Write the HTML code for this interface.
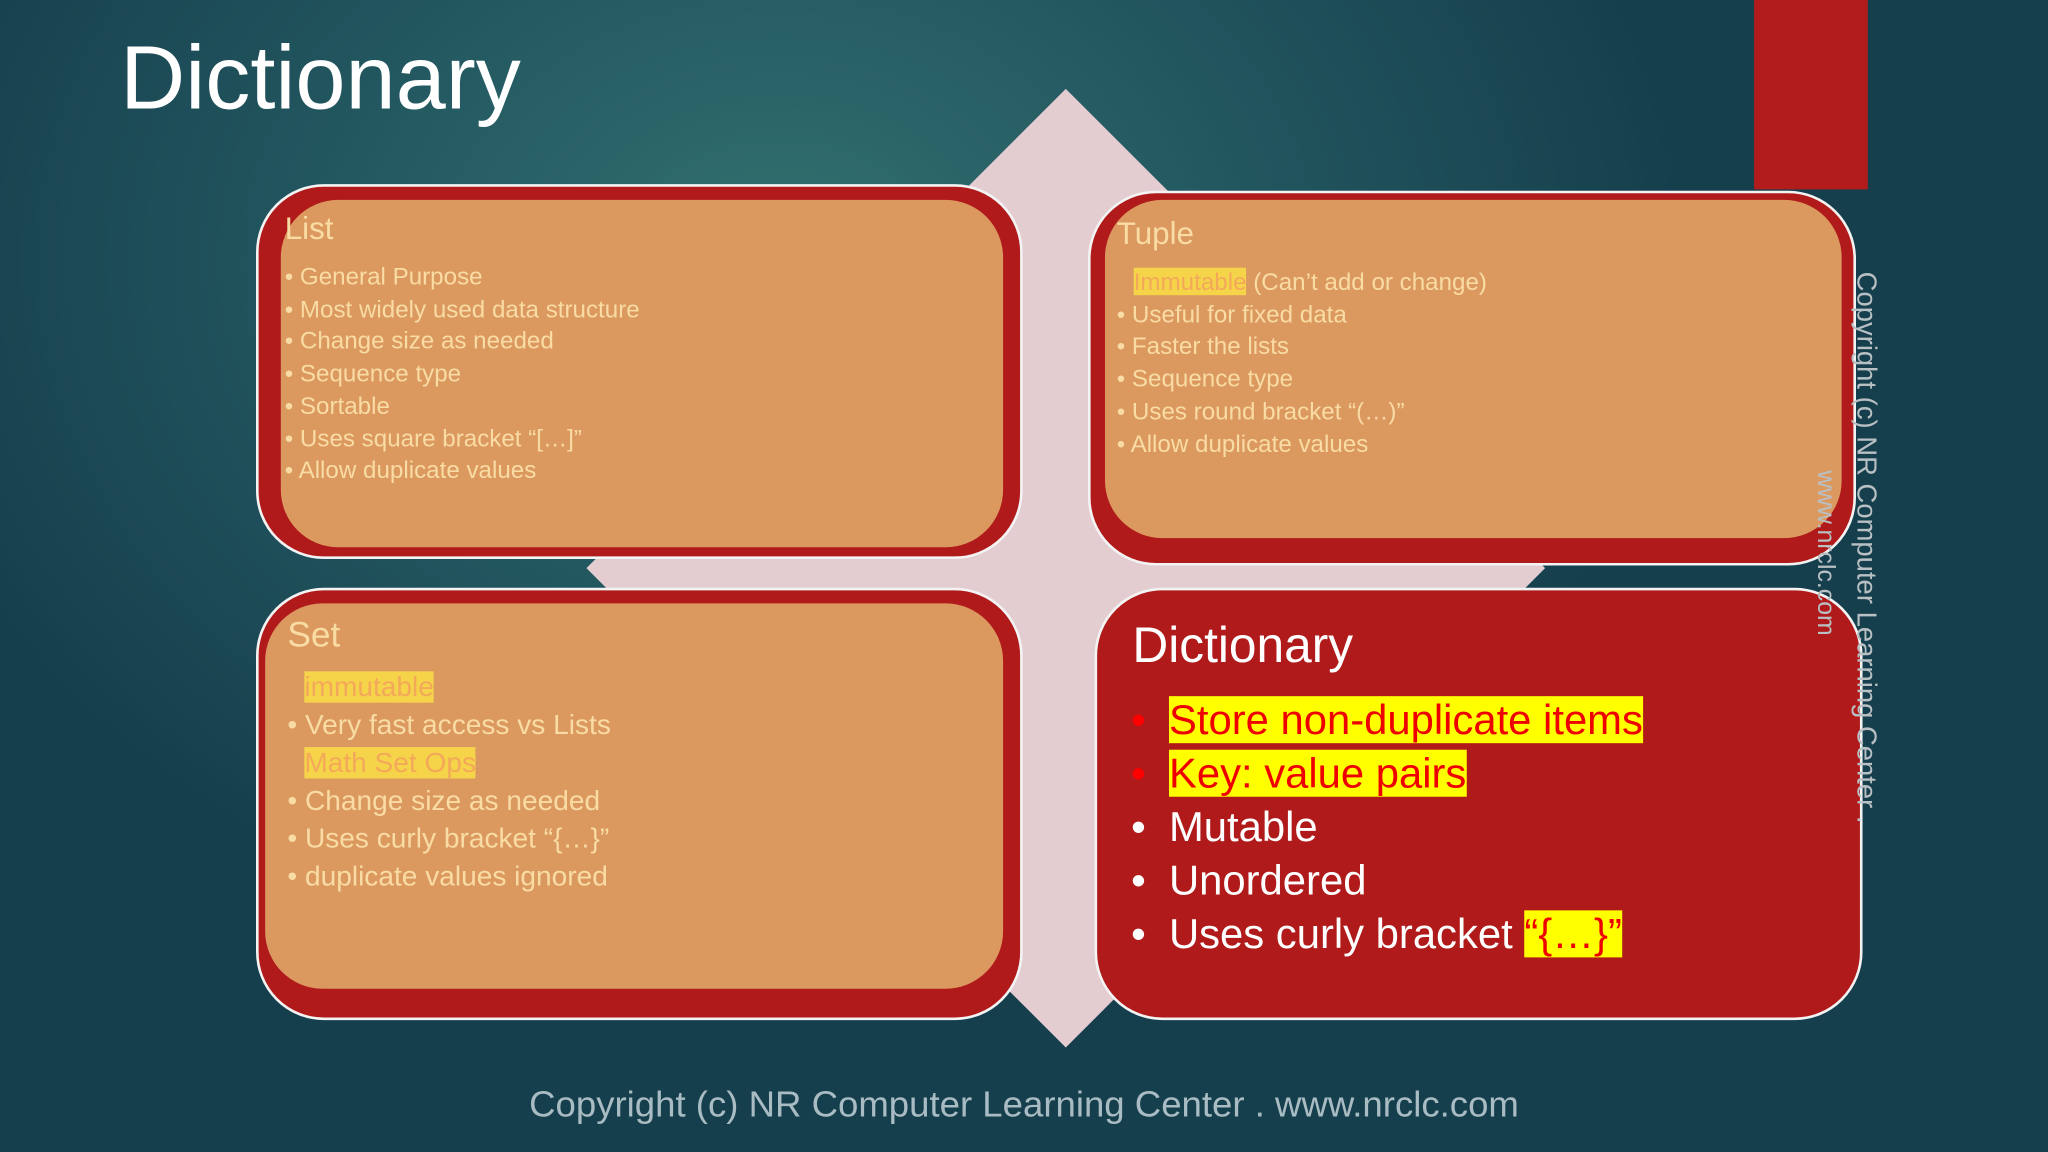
<!DOCTYPE html>
<html><head><meta charset="utf-8"><style>
html,body{margin:0;padding:0;width:2048px;height:1152px;overflow:hidden;}
body{background:radial-gradient(ellipse 900px 700px at 780px 260px,#33706f 0%,#245a62 45%,#163f4d 100%);font-family:"Liberation Sans",sans-serif;}
#s{position:absolute;left:0;top:0;width:1568px;height:882px;transform:scale(1.306122);transform-origin:0 0;}
.a{position:absolute;white-space:nowrap;}
.box{position:absolute;background:#b01a1a;border:2px solid #f3f3f3;box-sizing:border-box;border-radius:52px;}
.inner{position:absolute;background:#db9960;border-radius:44px;}
.lt{color:#f9dca3;}
.hl{background:#f5d44a;color:#f4a95a;}
</style></head><body><div id="s">
<div class="a" style="left:92px;top:20px;font-size:69px;color:#fff;">Dictionary</div>
<div class="a" style="left:1343px;top:0;width:87px;height:145px;background:#b31c1c;"></div>
<svg class="a" style="left:0;top:0" width="1568" height="882"><polygon points="816,68 1183,435 816,802 449,435" fill="#e4cdd0"/></svg>

<div class="box" style="left:196px;top:141px;width:587px;height:287px;"></div>
<div class="inner" style="left:215px;top:153px;width:553px;height:266px;"></div>
<div class="box" style="left:833px;top:146px;width:588px;height:287px;"></div>
<div class="inner" style="left:846px;top:153px;width:564px;height:259px;"></div>
<div class="box" style="left:196px;top:450px;width:587px;height:331px;"></div>
<div class="inner" style="left:203px;top:462px;width:565px;height:295px;"></div>
<div class="box" style="left:838px;top:450px;width:588px;height:331px;"></div>

<div class="a lt" style="left:218px;top:162px;font-size:24px;">List</div>
<div class="a lt" style="left:218px;top:200px;font-size:18.5px;line-height:24.7px;">• General Purpose<br>• Most widely used data structure<br>• Change size as needed<br>• Sequence type<br>• Sortable<br>• Uses square bracket “[…]”<br>• Allow duplicate values</div>

<div class="a lt" style="left:855px;top:166px;font-size:24px;">Tuple</div>
<div class="a lt" style="left:855px;top:204px;font-size:18.5px;line-height:24.7px;"><span style="margin-left:13px" class="hl">Immutable</span> (Can’t add or change)<br>• Useful for fixed data<br>• Faster the lists<br>• Sequence type<br>• Uses round bracket “(…)”<br>• Allow duplicate values</div>

<div class="a lt" style="left:220px;top:471px;font-size:27px;">Set</div>
<div class="a lt" style="left:220px;top:512px;font-size:21.5px;line-height:29px;"><span style="margin-left:13px" class="hl">immutable</span><br>• Very fast access vs Lists<br><span style="margin-left:13px" class="hl">Math Set Ops</span><br>• Change size as needed<br>• Uses curly bracket “{…}”<br>• duplicate values ignored</div>

<div class="a" style="left:867px;top:474px;font-size:38px;color:#fff;">Dictionary</div>
<div class="a" style="left:866px;top:531px;font-size:32px;line-height:41px;color:#fff;">
<span style="color:#f00">•</span>&nbsp; <span style="background:#ff0;color:#e00;">Store non-duplicate items</span><br>
<span style="color:#f00">•</span>&nbsp; <span style="background:#ff0;color:#e00;">Key: value pairs</span><br>
•&nbsp; Mutable<br>•&nbsp; Unordered<br>•&nbsp; Uses curly bracket <span style="background:#ff0;color:#e00;">“{…}”</span></div>

<div class="a" style="left:1440px;top:208px;transform-origin:0 0;transform:rotate(90deg);font-size:21px;color:#b9c0c4;">Copyright (c) NR Computer Learning Center .</div>
<div class="a" style="left:1408px;top:360px;transform-origin:0 0;transform:rotate(90deg);font-size:19px;color:#b9c0c4;">www.nrclc.com</div>

<div class="a" style="left:0;width:1568px;text-align:center;top:830px;font-size:28px;color:#a9bcc3;">Copyright (c) NR Computer Learning Center . www.nrclc.com</div>
</div></body></html>
